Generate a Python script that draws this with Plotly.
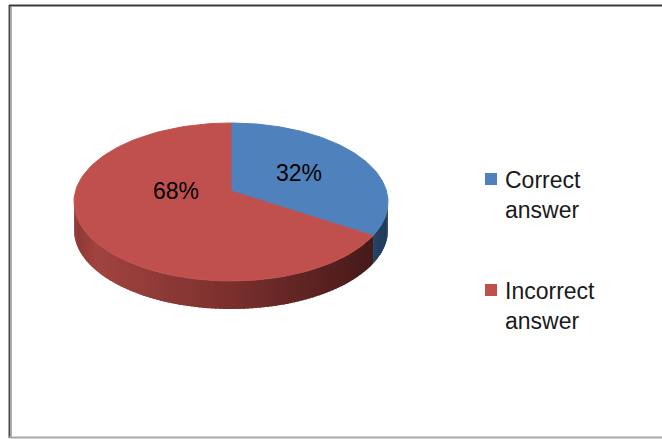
import numpy as np
import plotly.graph_objects as go

# ---- data -------------------------------------------------------------
categories = ["Correct answer", "Incorrect answer"]
shares = [32, 68]                       # percent of responses
legend_text = ["Correct<br>answer", "Incorrect<br>answer"]

# ---- styling ----------------------------------------------------------
top_colors = ["#4F81BD", "#C0504D"]
FONT = "Liberation Sans"

W, H = 662, 439
CX, CY = 231, 202          # centre of the top ellipse (px)
RX, RY = 157, 79           # radii of the top ellipse
APEX = (231, 191)          # point where slices meet
DEPTH = 28                 # thickness of the disc


def rim(theta_deg, drop=0.0):
    """Point on the rim, angle measured clockwise from 12 o'clock."""
    t = np.radians(theta_deg)
    return CX + RX * np.sin(t), CY - RY * np.cos(t) + drop


def wall_color(idx, x):
    if idx == 0:
        r = np.interp(x, [360, 390], [48, 28])
        g = np.interp(x, [360, 390], [82, 52])
        b = np.interp(x, [360, 390], [122, 82])
    else:
        xs = [74, 95, 230, 385]
        r = np.interp(x, xs, [140, 162, 122, 66])
        g = np.interp(x, xs, [56, 68, 48, 24])
        b = np.interp(x, xs, [53, 64, 46, 24])
    return f"rgb({int(r)},{int(g)},{int(b)})"


fig = go.Figure()

# slice angle ranges from the data
total = float(sum(shares))
bounds = np.cumsum([0] + [s / total * 360 for s in shares])

# side walls (only the front half is visible), drawn as overlapping strips
for i in range(len(shares)):
    a0, a1 = max(bounds[i], 90), min(bounds[i + 1], 270)
    if a1 <= a0:
        continue
    steps = max(2, int(np.ceil((a1 - a0) / 1.5)))
    edges = np.linspace(a0, a1, steps + 1)
    for k, (e0, e1) in enumerate(zip(edges[:-1], edges[1:])):
        e1x = e1 + (1.0 if k < steps - 1 else 0.0)
        th = np.linspace(e0, e1x, 4)
        xt, yt = rim(th)
        xb, yb = rim(th[::-1], DEPTH)
        col = wall_color(i, float(np.mean(xt)))
        fig.add_trace(go.Scatter(
            x=np.concatenate([xt, xb, xt[:1]]),
            y=np.concatenate([yt, yb, yt[:1]]),
            mode="lines", fill="toself", fillcolor=col,
            line=dict(color=col, width=0),
            hoverinfo="skip", showlegend=False))

# top faces
for i, name in enumerate(categories):
    th = np.linspace(bounds[i], bounds[i + 1], 120)
    xs, ys = rim(th)
    fig.add_trace(go.Scatter(
        x=np.concatenate([[APEX[0]], xs, [APEX[0]]]),
        y=np.concatenate([[APEX[1]], ys, [APEX[1]]]),
        mode="lines", fill="toself", fillcolor=top_colors[i],
        line=dict(color=top_colors[i], width=1),
        name=name, hoverinfo="name", showlegend=False))

# percentage labels
label_pos = [(299, 173), (176, 191)]
for (lx, ly), v in zip(label_pos, shares):
    fig.add_annotation(x=lx, y=ly, text=f"{v}%", showarrow=False,
                       xanchor="center", yanchor="middle",
                       font=dict(family=FONT, size=23, color="#000000"))

# legend
legend_rows = [179, 290]
fig.add_trace(go.Scatter(
    x=[491, 491], y=legend_rows, mode="markers",
    marker=dict(symbol="square", size=12, color=top_colors,
                line=dict(width=0)),
    hoverinfo="skip", showlegend=False))
for ry, txt in zip(legend_rows, legend_text):
    fig.add_annotation(x=503, y=ry - 14, text=txt, showarrow=False,
                       xanchor="left", yanchor="top", align="left",
                       font=dict(family=FONT, size=23, color="#1a1a1a"))

# chart-area border
fig.add_shape(type="line", x0=9.5, x1=9.5, y0=5, y1=438,
              line=dict(color="#4a4a4a", width=2))
fig.add_shape(type="line", x0=11.5, x1=11.5, y0=7, y1=437,
              line=dict(color="#b0b0b0", width=1))
fig.add_shape(type="line", x0=9, x1=W, y0=5.5, y1=5.5,
              line=dict(color="#3a3a3a", width=2))
fig.add_shape(type="line", x0=9, x1=W, y0=437.5, y1=437.5,
              line=dict(color="#a8a8a8", width=2))

fig.update_layout(
    width=W, height=H, autosize=False,
    margin=dict(l=0, r=0, t=0, b=0),
    paper_bgcolor="white", plot_bgcolor="white",
    xaxis=dict(range=[0, W], visible=False, fixedrange=True),
    yaxis=dict(range=[H, 0], visible=False, fixedrange=True),
    showlegend=False,
)

fig.write_html("out.html")
